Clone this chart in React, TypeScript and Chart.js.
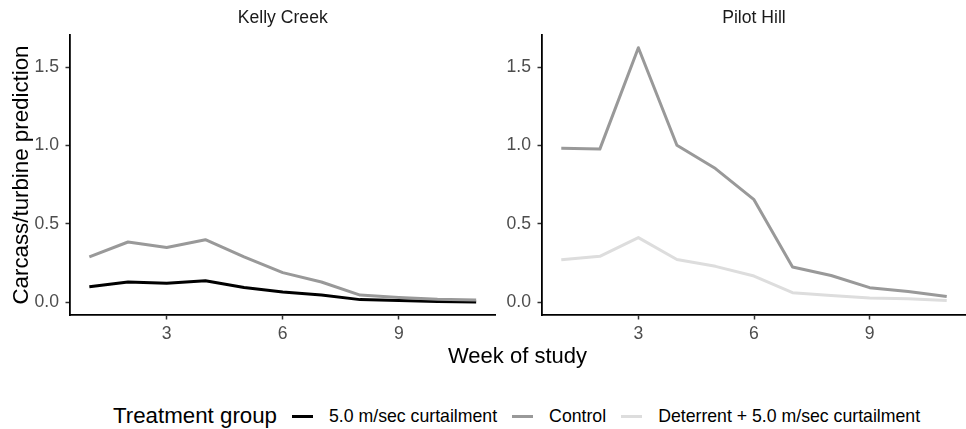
import { useEffect, useRef } from "react";
import { Chart, registerables } from "chart.js";

Chart.register(...registerables);

// data
const weeks = [1, 2, 3, 4, 5, 6, 7, 8, 9, 10, 11];
const panels = ["Kelly Creek", "Pilot Hill"];
const groups = ["5.0 m/sec curtailment", "Control", "Deterrent + 5.0 m/sec curtailment"];
const groupColors = ["#000000", "#999999", "#DDDDDD"];

const kellyCurtailment = [0.1, 0.13, 0.123, 0.138, 0.095, 0.066, 0.047, 0.018, 0.012, 0.006, 0.003];
const kellyControl = [0.29, 0.385, 0.35, 0.4, 0.29, 0.19, 0.13, 0.047, 0.032, 0.02, 0.015];
const pilotControl = [0.982, 0.977, 1.623, 1.002, 0.853, 0.655, 0.226, 0.172, 0.094, 0.07, 0.038];
const pilotDeterrent = [0.272, 0.294, 0.413, 0.274, 0.23, 0.168, 0.062, 0.045, 0.028, 0.023, 0.013];

const xTicks = [3, 6, 9];
const yTicks = [0, 0.5, 1, 1.5];
const yTitle = "Carcass/turbine prediction";
const xTitle = "Week of study";
const legendTitle = "Treatment group";

const FONT = "'Liberation Sans', Arial, sans-serif";

type Series = { group: number; values: number[] };

const Panel = ({
  title,
  series,
  showYTitle,
  yWidth,
  padRight,
  width,
}: {
  title: string;
  series: Series[];
  showYTitle: boolean;
  yWidth: number;
  padRight: number;
  width: number;
}) => {
  const ref = useRef<HTMLCanvasElement | null>(null);

  useEffect(() => {
    if (!ref.current) return;
    const tickFont = { family: FONT, size: 17.6 };
    const c = new Chart(ref.current, {
      type: "line",
      data: {
        datasets: series.map((s) => ({
          label: groups[s.group],
          data: weeks.map((w, i) => ({ x: w, y: s.values[i] })),
          borderColor: groupColors[s.group],
          borderWidth: 3,
          borderJoinStyle: "round" as const,
          pointRadius: 0,
          tension: 0,
          fill: false,
        })),
      },
      options: {
        animation: false,
        responsive: false,
        maintainAspectRatio: false,
        layout: { padding: { left: 0, right: padRight, top: 0, bottom: 0 } },
        plugins: {
          legend: { display: false },
          tooltip: { enabled: false },
          title: {
            display: true,
            text: title,
            fullSize: false,
            color: "#1A1A1A",
            font: { family: FONT, size: 17.6, weight: "normal" },
            padding: { top: 8, bottom: 5.9 },
          },
        },
        scales: {
          x: {
            type: "linear",
            min: 0.5,
            max: 11.5,
            afterBuildTicks: (s: any) => {
              s.ticks = xTicks.map((v) => ({ value: v }));
            },
            afterFit: (s: any) => {
              s.height = 30;
            },
            grid: {
              drawOnChartArea: false,
              drawTicks: true,
              tickLength: 4.5,
              tickColor: "#333333",
              tickWidth: 1.5,
            },
            border: { display: true, color: "#000000", width: 1.8 },
            ticks: {
              color: "#4D4D4D",
              font: tickFont,
              padding: 4,
              autoSkip: false,
              maxRotation: 0,
              callback: (v: any) => String(v),
            },
          },
          y: {
            type: "linear",
            min: -0.08,
            max: 1.704,
            afterBuildTicks: (s: any) => {
              s.ticks = yTicks.map((v) => ({ value: v }));
            },
            afterFit: (s: any) => {
              s.width = yWidth;
            },
            grid: {
              drawOnChartArea: false,
              drawTicks: true,
              tickLength: 4.5,
              tickColor: "#333333",
              tickWidth: 1.5,
            },
            border: { display: true, color: "#000000", width: 1.8 },
            ticks: {
              color: "#4D4D4D",
              font: tickFont,
              padding: 6.5,
              callback: (v: any) => Number(v).toFixed(1),
            },
            title: {
              display: showYTitle,
              text: yTitle,
              color: "#000000",
              font: { family: FONT, size: 22.3 },
              padding: { top: 8, bottom: 0 },
            },
          },
        },
      },
    });
    return () => c.destroy();
  }, [title, series, showYTitle, yWidth, padRight]);

  return <canvas ref={ref} width={width} height={345} />;
};

const LegendKey = ({ color }: { color: string }) => (
  <span
    style={{
      display: "inline-block",
      width: 21,
      height: 3,
      background: color,
      marginRight: 16,
    }}
  />
);

export default function App() {
  return (
    <div
      style={{
        position: "absolute",
        left: 0,
        top: 0,
        width: 966,
        height: 429,
        background: "#fff",
        overflow: "hidden",
        fontFamily: FONT,
      }}
    >
      <div style={{ position: "absolute", left: 0, top: 0, width: 500, height: 345 }}>
        <Panel
          title={panels[0]}
          series={[
            { group: 1, values: kellyControl },
            { group: 0, values: kellyCurtailment },
          ]}
          showYTitle={true}
          yWidth={70}
          padRight={4.5}
          width={500}
        />
      </div>
      <div style={{ position: "absolute", left: 500, top: 0, width: 466, height: 345 }}>
        <Panel
          title={panels[1]}
          series={[
            { group: 2, values: pilotDeterrent },
            { group: 1, values: pilotControl },
          ]}
          showYTitle={false}
          yWidth={42}
          padRight={0}
          width={466}
        />
      </div>
      <div
        style={{
          position: "absolute",
          left: 70,
          width: 895,
          top: 343,
          lineHeight: "26px",
          fontSize: 22,
          textAlign: "center",
          color: "#000",
        }}
      >
        {xTitle}
      </div>
      <div
        style={{
          position: "absolute",
          left: 113,
          top: 403,
          height: 26,
          display: "flex",
          alignItems: "center",
          whiteSpace: "nowrap",
          color: "#000",
        }}
      >
        <span style={{ fontSize: 22.3, lineHeight: "26px", marginRight: 15 }}>{legendTitle}</span>
        {groups.map((g, i) => (
          <span key={g} style={{ display: "flex", alignItems: "center", marginRight: 15 }}>
            <LegendKey color={groupColors[i]} />
            <span style={{ fontSize: 17.7, lineHeight: "26px" }}>{g}</span>
          </span>
        ))}
      </div>
    </div>
  );
}
